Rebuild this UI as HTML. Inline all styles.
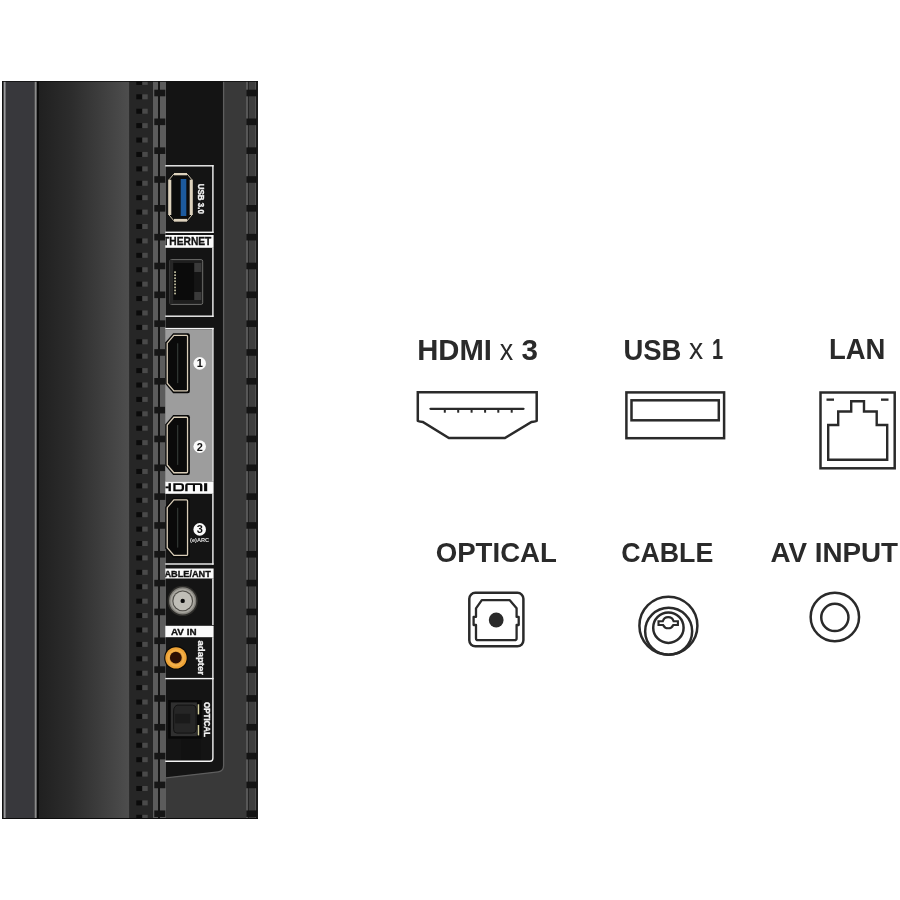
<!DOCTYPE html><html><head><meta charset="utf-8"><style>html,body{margin:0;padding:0;background:#fff;width:900px;height:900px;overflow:hidden}svg{display:block;will-change:transform}</style></head><body>
<svg width="900" height="900" viewBox="0 0 900 900" font-family="Liberation Sans, sans-serif">
<defs>
<linearGradient id="g1" x1="0" x2="1" y1="0" y2="0"><stop offset="0" stop-color="#202020"/><stop offset="0.35" stop-color="#2c2c2c"/><stop offset="1" stop-color="#4e4e4e"/></linearGradient>
<clipPath id="lab"><rect x="165.3" y="0" width="48" height="900"/></clipPath>
</defs>
<rect x="2" y="81" width="256" height="738" fill="#141414"/>
<rect x="3.5" y="81" width="2.3" height="738" fill="#9a9a9c"/>
<rect x="5.8" y="81" width="28.8" height="738" fill="#38383c"/>
<rect x="34.6" y="81" width="2.2" height="738" fill="#8a8a8a"/>
<rect x="36.8" y="81" width="2.1" height="738" fill="#0a0a0a"/>
<rect x="38.9" y="81" width="90.6" height="738" fill="url(#g1)"/>
<rect x="129.5" y="81" width="23.5" height="738" fill="#262626"/>
<rect x="136.3" y="81.00" width="6" height="3.90" fill="#0b0b0b"/><rect x="142.3" y="81.00" width="5.4" height="3.90" fill="#4a4a4a"/>
<rect x="136.3" y="94.31" width="6" height="5.00" fill="#0b0b0b"/><rect x="142.3" y="94.31" width="5.4" height="5.00" fill="#4a4a4a"/>
<rect x="136.3" y="108.72" width="6" height="5.00" fill="#0b0b0b"/><rect x="142.3" y="108.72" width="5.4" height="5.00" fill="#4a4a4a"/>
<rect x="136.3" y="123.13" width="6" height="5.00" fill="#0b0b0b"/><rect x="142.3" y="123.13" width="5.4" height="5.00" fill="#4a4a4a"/>
<rect x="136.3" y="137.54" width="6" height="5.00" fill="#0b0b0b"/><rect x="142.3" y="137.54" width="5.4" height="5.00" fill="#4a4a4a"/>
<rect x="136.3" y="151.95" width="6" height="5.00" fill="#0b0b0b"/><rect x="142.3" y="151.95" width="5.4" height="5.00" fill="#4a4a4a"/>
<rect x="136.3" y="166.36" width="6" height="5.00" fill="#0b0b0b"/><rect x="142.3" y="166.36" width="5.4" height="5.00" fill="#4a4a4a"/>
<rect x="136.3" y="180.77" width="6" height="5.00" fill="#0b0b0b"/><rect x="142.3" y="180.77" width="5.4" height="5.00" fill="#4a4a4a"/>
<rect x="136.3" y="195.18" width="6" height="5.00" fill="#0b0b0b"/><rect x="142.3" y="195.18" width="5.4" height="5.00" fill="#4a4a4a"/>
<rect x="136.3" y="209.59" width="6" height="5.00" fill="#0b0b0b"/><rect x="142.3" y="209.59" width="5.4" height="5.00" fill="#4a4a4a"/>
<rect x="136.3" y="224.00" width="6" height="5.00" fill="#0b0b0b"/><rect x="142.3" y="224.00" width="5.4" height="5.00" fill="#4a4a4a"/>
<rect x="136.3" y="238.41" width="6" height="5.00" fill="#0b0b0b"/><rect x="142.3" y="238.41" width="5.4" height="5.00" fill="#4a4a4a"/>
<rect x="136.3" y="252.82" width="6" height="5.00" fill="#0b0b0b"/><rect x="142.3" y="252.82" width="5.4" height="5.00" fill="#4a4a4a"/>
<rect x="136.3" y="267.23" width="6" height="5.00" fill="#0b0b0b"/><rect x="142.3" y="267.23" width="5.4" height="5.00" fill="#4a4a4a"/>
<rect x="136.3" y="281.64" width="6" height="5.00" fill="#0b0b0b"/><rect x="142.3" y="281.64" width="5.4" height="5.00" fill="#4a4a4a"/>
<rect x="136.3" y="296.05" width="6" height="5.00" fill="#0b0b0b"/><rect x="142.3" y="296.05" width="5.4" height="5.00" fill="#4a4a4a"/>
<rect x="136.3" y="310.46" width="6" height="5.00" fill="#0b0b0b"/><rect x="142.3" y="310.46" width="5.4" height="5.00" fill="#4a4a4a"/>
<rect x="136.3" y="324.87" width="6" height="5.00" fill="#0b0b0b"/><rect x="142.3" y="324.87" width="5.4" height="5.00" fill="#4a4a4a"/>
<rect x="136.3" y="339.28" width="6" height="5.00" fill="#0b0b0b"/><rect x="142.3" y="339.28" width="5.4" height="5.00" fill="#4a4a4a"/>
<rect x="136.3" y="353.69" width="6" height="5.00" fill="#0b0b0b"/><rect x="142.3" y="353.69" width="5.4" height="5.00" fill="#4a4a4a"/>
<rect x="136.3" y="368.10" width="6" height="5.00" fill="#0b0b0b"/><rect x="142.3" y="368.10" width="5.4" height="5.00" fill="#4a4a4a"/>
<rect x="136.3" y="382.51" width="6" height="5.00" fill="#0b0b0b"/><rect x="142.3" y="382.51" width="5.4" height="5.00" fill="#4a4a4a"/>
<rect x="136.3" y="396.92" width="6" height="5.00" fill="#0b0b0b"/><rect x="142.3" y="396.92" width="5.4" height="5.00" fill="#4a4a4a"/>
<rect x="136.3" y="411.33" width="6" height="5.00" fill="#0b0b0b"/><rect x="142.3" y="411.33" width="5.4" height="5.00" fill="#4a4a4a"/>
<rect x="136.3" y="425.74" width="6" height="5.00" fill="#0b0b0b"/><rect x="142.3" y="425.74" width="5.4" height="5.00" fill="#4a4a4a"/>
<rect x="136.3" y="440.15" width="6" height="5.00" fill="#0b0b0b"/><rect x="142.3" y="440.15" width="5.4" height="5.00" fill="#4a4a4a"/>
<rect x="136.3" y="454.56" width="6" height="5.00" fill="#0b0b0b"/><rect x="142.3" y="454.56" width="5.4" height="5.00" fill="#4a4a4a"/>
<rect x="136.3" y="468.97" width="6" height="5.00" fill="#0b0b0b"/><rect x="142.3" y="468.97" width="5.4" height="5.00" fill="#4a4a4a"/>
<rect x="136.3" y="483.38" width="6" height="5.00" fill="#0b0b0b"/><rect x="142.3" y="483.38" width="5.4" height="5.00" fill="#4a4a4a"/>
<rect x="136.3" y="497.79" width="6" height="5.00" fill="#0b0b0b"/><rect x="142.3" y="497.79" width="5.4" height="5.00" fill="#4a4a4a"/>
<rect x="136.3" y="512.20" width="6" height="5.00" fill="#0b0b0b"/><rect x="142.3" y="512.20" width="5.4" height="5.00" fill="#4a4a4a"/>
<rect x="136.3" y="526.61" width="6" height="5.00" fill="#0b0b0b"/><rect x="142.3" y="526.61" width="5.4" height="5.00" fill="#4a4a4a"/>
<rect x="136.3" y="541.02" width="6" height="5.00" fill="#0b0b0b"/><rect x="142.3" y="541.02" width="5.4" height="5.00" fill="#4a4a4a"/>
<rect x="136.3" y="555.43" width="6" height="5.00" fill="#0b0b0b"/><rect x="142.3" y="555.43" width="5.4" height="5.00" fill="#4a4a4a"/>
<rect x="136.3" y="569.84" width="6" height="5.00" fill="#0b0b0b"/><rect x="142.3" y="569.84" width="5.4" height="5.00" fill="#4a4a4a"/>
<rect x="136.3" y="584.25" width="6" height="5.00" fill="#0b0b0b"/><rect x="142.3" y="584.25" width="5.4" height="5.00" fill="#4a4a4a"/>
<rect x="136.3" y="598.66" width="6" height="5.00" fill="#0b0b0b"/><rect x="142.3" y="598.66" width="5.4" height="5.00" fill="#4a4a4a"/>
<rect x="136.3" y="613.07" width="6" height="5.00" fill="#0b0b0b"/><rect x="142.3" y="613.07" width="5.4" height="5.00" fill="#4a4a4a"/>
<rect x="136.3" y="627.48" width="6" height="5.00" fill="#0b0b0b"/><rect x="142.3" y="627.48" width="5.4" height="5.00" fill="#4a4a4a"/>
<rect x="136.3" y="641.89" width="6" height="5.00" fill="#0b0b0b"/><rect x="142.3" y="641.89" width="5.4" height="5.00" fill="#4a4a4a"/>
<rect x="136.3" y="656.30" width="6" height="5.00" fill="#0b0b0b"/><rect x="142.3" y="656.30" width="5.4" height="5.00" fill="#4a4a4a"/>
<rect x="136.3" y="670.71" width="6" height="5.00" fill="#0b0b0b"/><rect x="142.3" y="670.71" width="5.4" height="5.00" fill="#4a4a4a"/>
<rect x="136.3" y="685.12" width="6" height="5.00" fill="#0b0b0b"/><rect x="142.3" y="685.12" width="5.4" height="5.00" fill="#4a4a4a"/>
<rect x="136.3" y="699.53" width="6" height="5.00" fill="#0b0b0b"/><rect x="142.3" y="699.53" width="5.4" height="5.00" fill="#4a4a4a"/>
<rect x="136.3" y="713.94" width="6" height="5.00" fill="#0b0b0b"/><rect x="142.3" y="713.94" width="5.4" height="5.00" fill="#4a4a4a"/>
<rect x="136.3" y="728.35" width="6" height="5.00" fill="#0b0b0b"/><rect x="142.3" y="728.35" width="5.4" height="5.00" fill="#4a4a4a"/>
<rect x="136.3" y="742.76" width="6" height="5.00" fill="#0b0b0b"/><rect x="142.3" y="742.76" width="5.4" height="5.00" fill="#4a4a4a"/>
<rect x="136.3" y="757.17" width="6" height="5.00" fill="#0b0b0b"/><rect x="142.3" y="757.17" width="5.4" height="5.00" fill="#4a4a4a"/>
<rect x="136.3" y="771.58" width="6" height="5.00" fill="#0b0b0b"/><rect x="142.3" y="771.58" width="5.4" height="5.00" fill="#4a4a4a"/>
<rect x="136.3" y="785.99" width="6" height="5.00" fill="#0b0b0b"/><rect x="142.3" y="785.99" width="5.4" height="5.00" fill="#4a4a4a"/>
<rect x="136.3" y="800.40" width="6" height="5.00" fill="#0b0b0b"/><rect x="142.3" y="800.40" width="5.4" height="5.00" fill="#4a4a4a"/>
<rect x="136.3" y="814.81" width="6" height="4.19" fill="#0b0b0b"/><rect x="142.3" y="814.81" width="5.4" height="4.19" fill="#4a4a4a"/>
<rect x="153" y="81" width="5" height="738" fill="#5c5c5c"/>
<rect x="158" y="81" width="2" height="738" fill="#151515"/>
<rect x="160" y="81" width="6" height="738" fill="#5c5c5c"/>
<rect x="166" y="81" width="92" height="738" fill="#393939"/>
<rect x="246" y="81" width="2" height="738" fill="#575757"/>
<rect x="248" y="81" width="1" height="738" fill="#242424"/>
<rect x="249" y="81" width="7" height="738" fill="#3e3e3e"/>
<rect x="255" y="81" width="0.8" height="738" fill="#555"/>
<rect x="256.2" y="81" width="1.6" height="738" fill="#151515"/>
<path d="M166 81 H223.6 V765.5 Q223.6 771.2 218.3 771.8 L166 777.8 Z" fill="#141414"/>
<path d="M223.6 81 V765.5 Q223.6 771.2 218.3 771.8 L166 777.8" fill="none" stroke="#5e5e5e" stroke-width="1.3"/>
<rect x="154.3" y="89.70" width="11" height="6.60" fill="#161616"/>
<rect x="246.3" y="89.70" width="10.7" height="6.60" fill="#141414"/>
<rect x="154.3" y="118.53" width="11" height="6.60" fill="#161616"/>
<rect x="246.3" y="118.53" width="10.7" height="6.60" fill="#141414"/>
<rect x="154.3" y="147.36" width="11" height="6.60" fill="#161616"/>
<rect x="246.3" y="147.36" width="10.7" height="6.60" fill="#141414"/>
<rect x="154.3" y="176.19" width="11" height="6.60" fill="#161616"/>
<rect x="246.3" y="176.19" width="10.7" height="6.60" fill="#141414"/>
<rect x="154.3" y="205.02" width="11" height="6.60" fill="#161616"/>
<rect x="246.3" y="205.02" width="10.7" height="6.60" fill="#141414"/>
<rect x="154.3" y="233.85" width="11" height="6.60" fill="#161616"/>
<rect x="246.3" y="233.85" width="10.7" height="6.60" fill="#141414"/>
<rect x="154.3" y="262.68" width="11" height="6.60" fill="#161616"/>
<rect x="246.3" y="262.68" width="10.7" height="6.60" fill="#141414"/>
<rect x="154.3" y="291.51" width="11" height="6.60" fill="#161616"/>
<rect x="246.3" y="291.51" width="10.7" height="6.60" fill="#141414"/>
<rect x="154.3" y="320.34" width="11" height="6.60" fill="#161616"/>
<rect x="246.3" y="320.34" width="10.7" height="6.60" fill="#141414"/>
<rect x="154.3" y="349.17" width="11" height="6.60" fill="#161616"/>
<rect x="246.3" y="349.17" width="10.7" height="6.60" fill="#141414"/>
<rect x="154.3" y="378.00" width="11" height="6.60" fill="#161616"/>
<rect x="246.3" y="378.00" width="10.7" height="6.60" fill="#141414"/>
<rect x="154.3" y="406.83" width="11" height="6.60" fill="#161616"/>
<rect x="246.3" y="406.83" width="10.7" height="6.60" fill="#141414"/>
<rect x="154.3" y="435.66" width="11" height="6.60" fill="#161616"/>
<rect x="246.3" y="435.66" width="10.7" height="6.60" fill="#141414"/>
<rect x="154.3" y="464.49" width="11" height="6.60" fill="#161616"/>
<rect x="246.3" y="464.49" width="10.7" height="6.60" fill="#141414"/>
<rect x="154.3" y="493.32" width="11" height="6.60" fill="#161616"/>
<rect x="246.3" y="493.32" width="10.7" height="6.60" fill="#141414"/>
<rect x="154.3" y="522.15" width="11" height="6.60" fill="#161616"/>
<rect x="246.3" y="522.15" width="10.7" height="6.60" fill="#141414"/>
<rect x="154.3" y="550.98" width="11" height="6.60" fill="#161616"/>
<rect x="246.3" y="550.98" width="10.7" height="6.60" fill="#141414"/>
<rect x="154.3" y="579.81" width="11" height="6.60" fill="#161616"/>
<rect x="246.3" y="579.81" width="10.7" height="6.60" fill="#141414"/>
<rect x="154.3" y="608.64" width="11" height="6.60" fill="#161616"/>
<rect x="246.3" y="608.64" width="10.7" height="6.60" fill="#141414"/>
<rect x="154.3" y="637.47" width="11" height="6.60" fill="#161616"/>
<rect x="246.3" y="637.47" width="10.7" height="6.60" fill="#141414"/>
<rect x="154.3" y="666.30" width="11" height="6.60" fill="#161616"/>
<rect x="246.3" y="666.30" width="10.7" height="6.60" fill="#141414"/>
<rect x="154.3" y="695.13" width="11" height="6.60" fill="#161616"/>
<rect x="246.3" y="695.13" width="10.7" height="6.60" fill="#141414"/>
<rect x="154.3" y="723.96" width="11" height="6.60" fill="#161616"/>
<rect x="246.3" y="723.96" width="10.7" height="6.60" fill="#141414"/>
<rect x="154.3" y="752.79" width="11" height="6.60" fill="#161616"/>
<rect x="246.3" y="752.79" width="10.7" height="6.60" fill="#141414"/>
<rect x="154.3" y="781.62" width="11" height="6.60" fill="#161616"/>
<rect x="246.3" y="781.62" width="10.7" height="6.60" fill="#141414"/>
<rect x="154.3" y="810.45" width="11" height="6.60" fill="#161616"/>
<rect x="246.3" y="810.45" width="10.7" height="6.60" fill="#141414"/>
<rect x="2" y="81" width="256" height="0.8" fill="#101010"/>
<rect x="2" y="818" width="256" height="1" fill="#0c0c0c"/>
<rect x="2" y="81" width="1.2" height="738" fill="#111"/>
<rect x="165.3" y="165.10000000000002" width="48.3" height="1.4" fill="#f4f4f4"/>
<rect x="212.2" y="165.1" width="1.4" height="67.80000000000001" fill="#f4f4f4"/>
<rect x="165.3" y="231.60000000000002" width="48.3" height="1.4" fill="#f4f4f4"/>
<path d="M174 173 H187 L192.7 179.7 V215 L187 221.7 H174 L168.3 215 V179.7 Z" fill="#0c0c0c"/>
<path d="M174 173.8 H187 L191.9 179.7 V215 L187 220.9 H174 L169.1 215 V179.7 Z" fill="none" stroke="#cfc4ae" stroke-width="1"/>
<rect x="174" y="173" width="13" height="2.3" fill="#ddd2bd"/><rect x="174" y="218.9" width="13" height="2.6" fill="#ddd2bd"/>
<rect x="168.3" y="179.7" width="3" height="35.3" fill="#ddd2bd"/><rect x="189.7" y="179.7" width="3" height="35.3" fill="#ddd2bd"/>
<rect x="180.7" y="179" width="5.6" height="37" fill="#1c5a9e"/>
<text transform="translate(197.8 183.8) rotate(90)" font-size="8.6" font-weight="bold" fill="#f2f2f2" stroke="#f2f2f2" stroke-width="0.35" textLength="30" lengthAdjust="spacingAndGlyphs">USB 3.0</text>
<rect x="165.3" y="235" width="48.3" height="12.8" fill="#fafafa"/>
<text clip-path="url(#lab)" x="211.3" y="244.7" text-anchor="end" font-size="10.4" font-weight="bold" fill="#111" stroke="#111" stroke-width="0.3" textLength="55" lengthAdjust="spacingAndGlyphs">ETHERNET</text>
<rect x="212.2" y="247.8" width="1.4" height="69.09999999999997" fill="#f4f4f4"/>
<rect x="165.3" y="315.5" width="48.3" height="1.4" fill="#f4f4f4"/>
<rect x="169.9" y="259.6" width="32.8" height="44.8" rx="1.6" fill="#1e1e1e" stroke="#767674" stroke-width="0.9"/>
<rect x="169.5" y="260" width="3.8" height="44" fill="#262626"/>
<rect x="173.3" y="263" width="21" height="37" fill="#0b0b0b"/>
<rect x="194.3" y="263" width="7" height="9" fill="#3a3a3a"/><rect x="194.3" y="292" width="7" height="8" fill="#3a3a3a"/><rect x="194.3" y="272" width="7" height="20" fill="#151515"/>
<rect x="174.2" y="271.30" width="1.7" height="1.7" fill="#c6c2a4"/>
<rect x="174.2" y="274.35" width="1.7" height="1.7" fill="#c6c2a4"/>
<rect x="174.2" y="277.40" width="1.7" height="1.7" fill="#c6c2a4"/>
<rect x="174.2" y="280.45" width="1.7" height="1.7" fill="#c6c2a4"/>
<rect x="174.2" y="283.50" width="1.7" height="1.7" fill="#c6c2a4"/>
<rect x="174.2" y="286.55" width="1.7" height="1.7" fill="#c6c2a4"/>
<rect x="174.2" y="289.60" width="1.7" height="1.7" fill="#c6c2a4"/>
<rect x="174.2" y="292.65" width="1.7" height="1.7" fill="#c6c2a4"/>
<rect x="165.3" y="327.90000000000003" width="48.3" height="1.4" fill="#f4f4f4"/>
<rect x="165.3" y="329.3" width="46.9" height="152.2" fill="#9d9d9d"/>
<rect x="212.2" y="327.9" width="1.4" height="153.60000000000002" fill="#f4f4f4"/>
<path d="M173.2 333.2 H187.8 Q189.9 333.2 189.9 335.40000000000003 V391.0 Q189.9 393.20000000000005 187.8 393.20000000000005 H173.2 L165.2 383.8 V342.6 Z" fill="#080808"/>
<path d="M173.9 335.45 H186.6 Q187.55 335.45 187.55 336.40000000000003 V390.0 Q187.55 390.95000000000005 186.6 390.95000000000005 H173.9 L167.25 383.20000000000005 V343.2 Z" fill="#0a0a0a" stroke="#d9cdb8" stroke-width="1.3"/>
<rect x="177.2" y="343.3" width="1" height="39.8" fill="#3a403c"/>
<circle cx="199.7" cy="363.4" r="6.3" fill="#fafafa"/>
<text x="199.7" y="367.4" text-anchor="middle" font-size="11" font-weight="bold" fill="#111">1</text>
<path d="M173.2 415.0 H187.8 Q189.9 415.0 189.9 417.20000000000005 V472.8 Q189.9 475.00000000000006 187.8 475.00000000000006 H173.2 L165.2 465.6 V424.40000000000003 Z" fill="#080808"/>
<path d="M173.9 417.25 H186.6 Q187.55 417.25 187.55 418.20000000000005 V471.8 Q187.55 472.75000000000006 186.6 472.75000000000006 H173.9 L167.25 465.00000000000006 V425.0 Z" fill="#0a0a0a" stroke="#d9cdb8" stroke-width="1.3"/>
<rect x="177.2" y="425.1" width="1" height="39.8" fill="#3a403c"/>
<circle cx="199.7" cy="446.6" r="6.3" fill="#fafafa"/>
<text x="199.7" y="450.6" text-anchor="middle" font-size="11" font-weight="bold" fill="#111">2</text>
<rect x="165.3" y="481.5" width="48.3" height="12.3" fill="#fafafa"/>
<g clip-path="url(#lab)" fill="#0a0a0a">
<rect x="165.3" y="486.4" width="3.5" height="1.9"/><rect x="168.5" y="483.2" width="2.4" height="8"/>
<path fill-rule="evenodd" d="M173.3 483.2 H181 Q184 483.2 184 486.2 V488.2 Q184 491.2 181 491.2 H173.3 Z M175.6 485 V489.5 H180.6 Q181.7 489.5 181.7 488.4 V486.1 Q181.7 485 180.6 485 Z"/>
<path fill-rule="evenodd" d="M185.2 491.2 V485.4 Q185.2 483.2 187.4 483.2 H200.2 Q202.4 483.2 202.4 485.4 V491.2 H200 V485 H195 V491.2 H192.9 V485 H187.6 V491.2 Z"/>
<rect x="204.1" y="483.2" width="3.1" height="8"/>
</g>
<rect x="212.2" y="493.8" width="1.4" height="70.90000000000003" fill="#f4f4f4"/>
<rect x="165.3" y="563.3" width="48.3" height="1.4" fill="#f4f4f4"/>
<path d="M173.2 497.7 H187.8 Q189.9 497.7 189.9 499.90000000000003 V555.5 Q189.9 557.7 187.8 557.7 H173.2 L165.2 548.3000000000001 V507.1 Z" fill="#080808"/>
<path d="M173.9 499.95 H186.6 Q187.55 499.95 187.55 500.90000000000003 V554.5 Q187.55 555.45 186.6 555.45 H173.9 L167.25 547.7 V507.7 Z" fill="#0a0a0a" stroke="#d9cdb8" stroke-width="1.3"/>
<rect x="177.2" y="507.8" width="1" height="39.8" fill="#3a403c"/>
<circle cx="199.7" cy="529.4" r="6.3" fill="#fafafa"/>
<text x="199.7" y="533.4" text-anchor="middle" font-size="11" font-weight="bold" fill="#111">3</text>
<text x="199.6" y="541.6" text-anchor="middle" font-size="5" font-weight="bold" fill="#e8e8e8" textLength="19" lengthAdjust="spacingAndGlyphs">(e)ARC</text>
<rect x="165.3" y="568.5" width="48.3" height="10" fill="#fafafa"/>
<text clip-path="url(#lab)" x="210.8" y="577.1" text-anchor="end" font-size="8.2" font-weight="bold" fill="#111" stroke="#111" stroke-width="0.3" textLength="53" lengthAdjust="spacingAndGlyphs">CABLE/ANT</text>
<rect x="212.2" y="578.5" width="1.4" height="46.5" fill="#f4f4f4"/>
<circle cx="182.7" cy="600.9" r="15.2" fill="#2e2d2a"/>
<circle cx="182.7" cy="600.9" r="13.6" fill="#84827c"/>
<circle cx="182.7" cy="600.9" r="12.2" fill="#a8a69f"/>
<circle cx="182.7" cy="600.9" r="10.4" fill="#4e4c47"/>
<circle cx="182.7" cy="600.9" r="9.3" fill="#c0beb7"/>
<circle cx="182.7" cy="600.9" r="2.2" fill="#0a0a0a"/>
<rect x="165.3" y="625.8" width="48.3" height="11.4" fill="#fafafa"/>
<text x="171" y="635.2" font-size="8.5" font-weight="bold" fill="#111" stroke="#111" stroke-width="0.3" textLength="25.5" lengthAdjust="spacingAndGlyphs">AV IN</text>
<rect x="212.2" y="637.2" width="1.4" height="41.799999999999955" fill="#f4f4f4"/>
<circle cx="176" cy="657.9" r="11.8" fill="#0a0806"/>
<circle cx="176" cy="657.9" r="10.7" fill="#eda235"/>
<circle cx="176" cy="657.9" r="8.6" fill="#f4b04a"/>
<circle cx="176" cy="657.9" r="6.6" fill="#e09a38"/>
<circle cx="175.8" cy="657.7" r="5.9" fill="#2c0e04"/>
<text transform="translate(197.6 640.5) rotate(90)" font-size="8.2" font-weight="bold" fill="#f0f0f0" stroke="#f0f0f0" stroke-width="0.3" textLength="34.5" lengthAdjust="spacingAndGlyphs">adapter</text>
<rect x="165.3" y="677.9" width="48.3" height="1.4" fill="#f4f4f4"/>
<path d="M165.3 761.2 H210 Q212.9 761.2 212.9 758.3 V679" fill="none" stroke="#f4f4f4" stroke-width="1.4"/>
<rect x="168.1" y="700" width="33.5" height="38.6" fill="#080808"/>
<rect x="170.8" y="702.4" width="26.1" height="33.8" fill="#303030"/>
<path d="M177 705.1 H192.5 Q196.1 705.1 196.1 708.7 V729.5 Q196.1 733.1 192.5 733.1 H177 Q173.6 733.1 173.6 729.5 V711 Q173.6 708 175 706.5 Z" fill="#262626" stroke="#121212" stroke-width="1"/>
<rect x="175.2" y="713.8" width="15" height="9.5" fill="#1a1a1a"/>
<rect x="197.7" y="704.3" width="1.5" height="10.1" fill="#d6d2a0"/><rect x="197.7" y="725" width="1.5" height="10.4" fill="#d6d2a0"/>
<text transform="translate(203.6 702) rotate(90)" font-size="8.6" font-weight="bold" fill="#f2f2f2" stroke="#f2f2f2" stroke-width="0.35" textLength="35" lengthAdjust="spacingAndGlyphs">OPTICAL</text>
<rect x="181" y="739.5" width="20" height="20.5" fill="#111"/>
<text transform="translate(417.25 359.6) scale(1.0088689655172414 1)" font-size="29.0" font-weight="bold" fill="#2a2a2a">HDMI</text>
<text transform="translate(499.73 359.6) scale(0.9267034482758622 1)" font-size="29.0" font-weight="normal" fill="#2a2a2a">x</text>
<text transform="translate(521.51 359.6) scale(1.020648275862069 1)" font-size="29.0" font-weight="bold" fill="#2a2a2a">3</text>
<text transform="translate(623.45 359.7) scale(0.9469793103448275 1)" font-size="29.0" font-weight="bold" fill="#2a2a2a">USB</text>
<text transform="translate(688.92 359.4) scale(0.9770068965517242 1)" font-size="29.0" font-weight="normal" fill="#2a2a2a">x</text>
<text transform="translate(711.9499999999999 359.4) scale(0.69 1)" font-size="29.0" font-weight="bold" fill="#2a2a2a">1</text>
<text transform="translate(828.88 359.3) scale(0.9482344827586207 1)" font-size="29.0" font-weight="bold" fill="#2a2a2a">LAN</text>
<text transform="translate(435.69 562.2) scale(1.0124 1)" font-size="27.3" font-weight="bold" fill="#2a2a2a">OPTICAL</text>
<text transform="translate(621.13 562.1) scale(0.9804 1)" font-size="27.3" font-weight="bold" fill="#2a2a2a">CABLE</text>
<text transform="translate(770.47 562.4) scale(1.0176 1)" font-size="27.3" font-weight="bold" fill="#2a2a2a">AV INPUT</text>
<path d="M417.8 392.2 H536.7 V421 Q536.7 421.4 531.5 422 L504.9 438 H448.9 L422.8 422 Q417.8 421.4 417.8 421 Z" fill="none" stroke="#2a2a2a" stroke-width="2.5" stroke-linejoin="miter"/>
<line x1="430.5" y1="408.8" x2="523.5" y2="408.8" stroke="#2a2a2a" stroke-width="2.3" stroke-linecap="round"/>
<rect x="443.8" y="409" width="2" height="3.7" fill="#2a2a2a"/>
<rect x="457.2" y="409" width="2" height="3.7" fill="#2a2a2a"/>
<rect x="470.6" y="409" width="2" height="3.7" fill="#2a2a2a"/>
<rect x="484.1" y="409" width="2" height="3.7" fill="#2a2a2a"/>
<rect x="497.3" y="409" width="2" height="3.7" fill="#2a2a2a"/>
<rect x="510.7" y="409" width="2" height="3.7" fill="#2a2a2a"/>
<rect x="626.4" y="392.4" width="97.7" height="45.8" fill="none" stroke="#2a2a2a" stroke-width="2.5"/>
<rect x="631.5" y="400.3" width="87.3" height="20" fill="none" stroke="#2a2a2a" stroke-width="2.5"/>
<rect x="820.5" y="392.5" width="74.2" height="75.8" fill="none" stroke="#2a2a2a" stroke-width="2.5"/>
<path d="M828.2 459.8 V425 H838.2 V411.5 H851.2 V401.2 H864 V411.5 H876.7 V425 H887.2 V459.8 Z" fill="none" stroke="#2a2a2a" stroke-width="2.4"/>
<rect x="826.5" y="398.5" width="7.5" height="2.3" fill="#2a2a2a"/><rect x="881" y="398.5" width="7.5" height="2.3" fill="#2a2a2a"/>
<rect x="469.3" y="592.8" width="54.1" height="53.5" rx="6" fill="none" stroke="#2a2a2a" stroke-width="2.5" stroke-width="2.4"/>
<path d="M481.8 600.2 H509.8 L516.6 608.3 V616.9 H518.7 V625 H516.6 V638.2 Q516.6 640.2 514.6 640.2 H478 Q476 640.2 476 638.2 V625 H473.6 V616.9 H476 V608.3 Z" fill="none" stroke="#2a2a2a" stroke-width="2.3" stroke-linejoin="round"/>
<circle cx="496.2" cy="620" r="7.4" fill="#2a2a2a"/>
<circle cx="668.4" cy="625.7" r="29" fill="none" stroke="#2a2a2a" stroke-width="2.5" stroke-width="2.4"/>
<circle cx="668.65" cy="631.3" r="23.5" fill="none" stroke="#2a2a2a" stroke-width="2.5" stroke-width="2.4"/>
<circle cx="668.4" cy="627.7" r="15.2" fill="none" stroke="#2a2a2a" stroke-width="2.5" stroke-width="2.4"/>
<path d="M662.8 621.2 A5.6 5.6 0 0 1 673.6 621.2 H677.9 V625 H673.3 A5.6 5.6 0 0 1 663.1 625 H658.5 V621.2 Z" fill="none" stroke="#2a2a2a" stroke-width="2.1"/>
<circle cx="834.85" cy="616.95" r="24.2" fill="none" stroke="#2a2a2a" stroke-width="2.5" stroke-width="2.6"/>
<circle cx="834.85" cy="617.45" r="13.6" fill="none" stroke="#2a2a2a" stroke-width="2.5" stroke-width="2.5"/>
</svg></body></html>
